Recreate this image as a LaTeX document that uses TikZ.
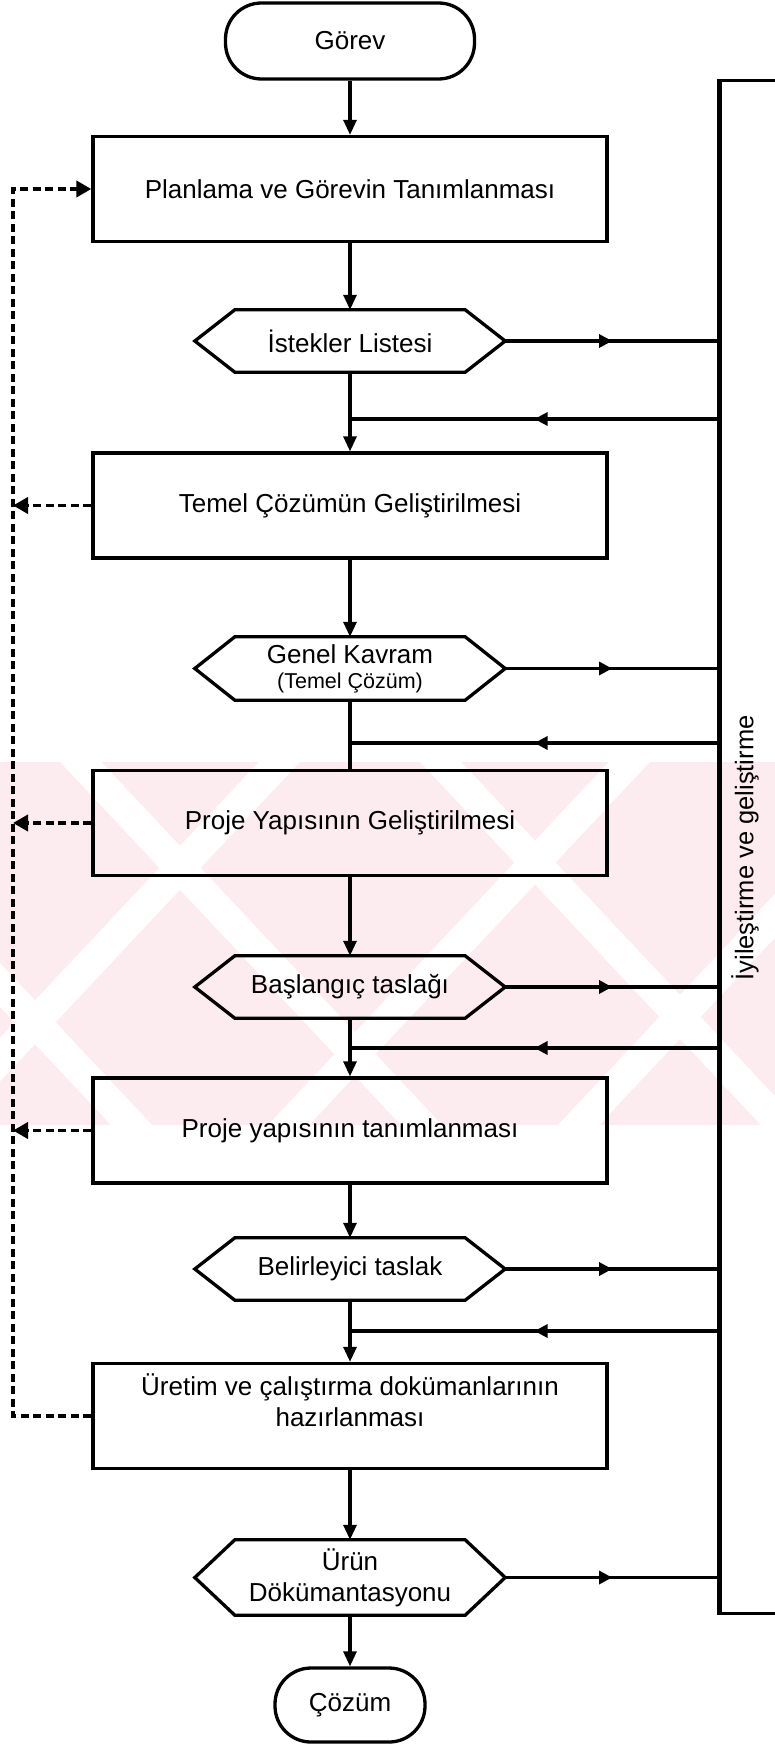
\documentclass[tikz,border=0pt]{standalone}
\usepackage{fontspec}
\setmainfont{Liberation Sans}
\usetikzlibrary{arrows.meta,decorations.markings,calc}

\newcommand\mainfs{\fontsize{26pt}{31pt}\selectfont}
\newcommand\smallfs{\fontsize{21.5pt}{25pt}\selectfont}
\newcommand\labelfs{\fontsize{25.5pt}{30pt}\selectfont}

\definecolor{markpink}{HTML}{FDECEF}

\tikzset{
  procbox/.style={draw, line width=3.3pt, minimum width=514pt, minimum height=105pt,
    inner sep=0pt, font=\mainfs, align=center},
  hexbox/.style={minimum width=310pt, inner sep=0pt, font=\mainfs, align=center},
  hexline/.style={line width=3.3pt, line join=miter},
  termbox/.style={draw, line width=3.3pt, rounded corners=36pt, inner sep=0pt, font=\mainfs},
  flow/.style={line width=3.1pt, -{Triangle[length=15pt,width=13pt]}},
  plainline/.style={line width=3.1pt},
  midarrow/.style={line width=3.1pt, postaction={decorate},
    decoration={markings, mark=at position 0.5 with {\arrow{Triangle[length=13pt,width=13pt]}}}},
  dline/.style={line width=3.8pt, dash pattern=on 8pt off 4.5pt},
  dtip/.style={-{Triangle[length=15pt,width=16pt]}},
  markgap/.style={line width=30pt, draw=white, line cap=butt},
}

% hexagonal outline around a text node
\newcommand\hexoutline[2][40pt]{%
  \draw[hexline] (#2.west) -- ([xshift=#1]#2.north west) -- ([xshift=-#1]#2.north east)
    -- (#2.east) -- ([xshift=-#1]#2.south east) -- ([xshift=#1]#2.south west) -- cycle;}

\begin{document}
\begin{tikzpicture}[x=1pt, y=-1pt]
\useasboundingbox (0,0) rectangle (775,1744);
\clip (0,0) rectangle (775,1744);
\fill[white] (0,0) rectangle (775,1744);

% faint background emblem: a pale band crossed by light diagonal gaps
\begin{scope}
  \clip (0,762) rectangle (775,1125);
  \fill[markpink] (0,762) rectangle (775,1125);
  \draw[markgap] (60,740) -- (445,1150);
  \draw[markgap] (-230,740) -- (155,1150);
  \draw[markgap] (420,740) -- (805,1150);
  \draw[markgap] (650,740) -- (265,1150);
  \draw[markgap] (940,740) -- (555,1150);
  \draw[markgap] (300,740) -- (-85,1150);
\end{scope}

% main column
\node[termbox, minimum width=249pt, minimum height=76pt] (gorev) at (350,41) {Görev};
\node[procbox] (plan) at (350,189) {Planlama ve Görevin Tanımlanması};
\node[hexbox, minimum height=62pt] (h1) at (350,341) {İstekler Listesi};
\node[procbox] (temel) at (350,505.5) {Temel Çözümün Geliştirilmesi};
\node[hexbox, minimum height=63pt] (h2) at (350,668.5) {Genel Kavram\\[-6pt]{\smallfs(Temel Çözüm)}};
\node[procbox] (proje) at (350,823) {Proje Yapısının Geliştirilmesi};
\node[hexbox, minimum height=62pt] (h3) at (350,987) {Başlangıç taslağı};
\node[procbox] (tanim) at (350,1130.5) {Proje yapısının tanımlanması};
\node[hexbox, minimum height=62pt] (h4) at (350,1269) {Belirleyici taslak};
\node[procbox] (uret) at (350,1416) {};
\node[font=\mainfs, align=center, inner sep=0pt] (urettxt) at (350,1400)
  {Üretim ve çalıştırma dokümanlarının\\hazırlanması};
\node[hexbox, minimum height=75pt] (h5) at (350,1577.5) {Ürün\\Dökümantasyonu};
\node[termbox, minimum width=150pt, minimum height=74pt] (cozum) at (350,1705) {Çözüm};

\hexoutline{h1}
\hexoutline{h2}
\hexoutline{h3}
\hexoutline{h4}
\hexoutline{h5}

% improvement frame on the right
\node[draw, line width=3.3pt, minimum width=80pt, minimum height=1533pt, inner sep=0pt,
  anchor=north west] (rbox) at (719,79) {};
\draw[line width=4.5pt] (rbox.north west) -- (rbox.south west);
\node[rotate=90, font=\labelfs, inner sep=0pt] (lbl) at (745,848) {İyileştirme ve geliştirme};

% junctions where the feedback enters the main column
\coordinate (j1) at (350,419);
\coordinate (j2) at (350,743);
\coordinate (j3) at (350,1048);
\coordinate (j4) at (350,1331);

% flow down the column
\draw[flow] (gorev) -- (plan);
\draw[flow] (plan) -- (h1);
\draw[flow] (h1) -- (temel);
\draw[flow] (temel) -- (h2);
\draw[plainline] (h2) -- (proje);
\draw[flow] (proje) -- (h3);
\draw[flow] (h3) -- (tanim);
\draw[flow] (tanim) -- (h4);
\draw[flow] (h4) -- (uret);
\draw[flow] (uret) -- (h5);
\draw[flow] (h5) -- (cozum);

% outputs to the improvement frame
\foreach \h in {h1,h2,h3,h4,h5}
  \draw[midarrow] (\h.east) -- (\h.east -| rbox.west);

% feedback from the improvement frame
\foreach \j in {j1,j2,j3,j4}
  \draw[midarrow] (\j -| rbox.west) -- (\j);

% dashed return path on the left
\coordinate (dtop) at (13,189);
\coordinate (dbot) at (13,1416);
\draw[dline, dtip] (uret.west) -- (dbot) -- (dtop) -- (plan.west);
\foreach \b in {temel,proje,tanim}
  \draw[dline, dtip] (\b.west) -- (\b.west -| dtop);
\end{tikzpicture}
\end{document}
